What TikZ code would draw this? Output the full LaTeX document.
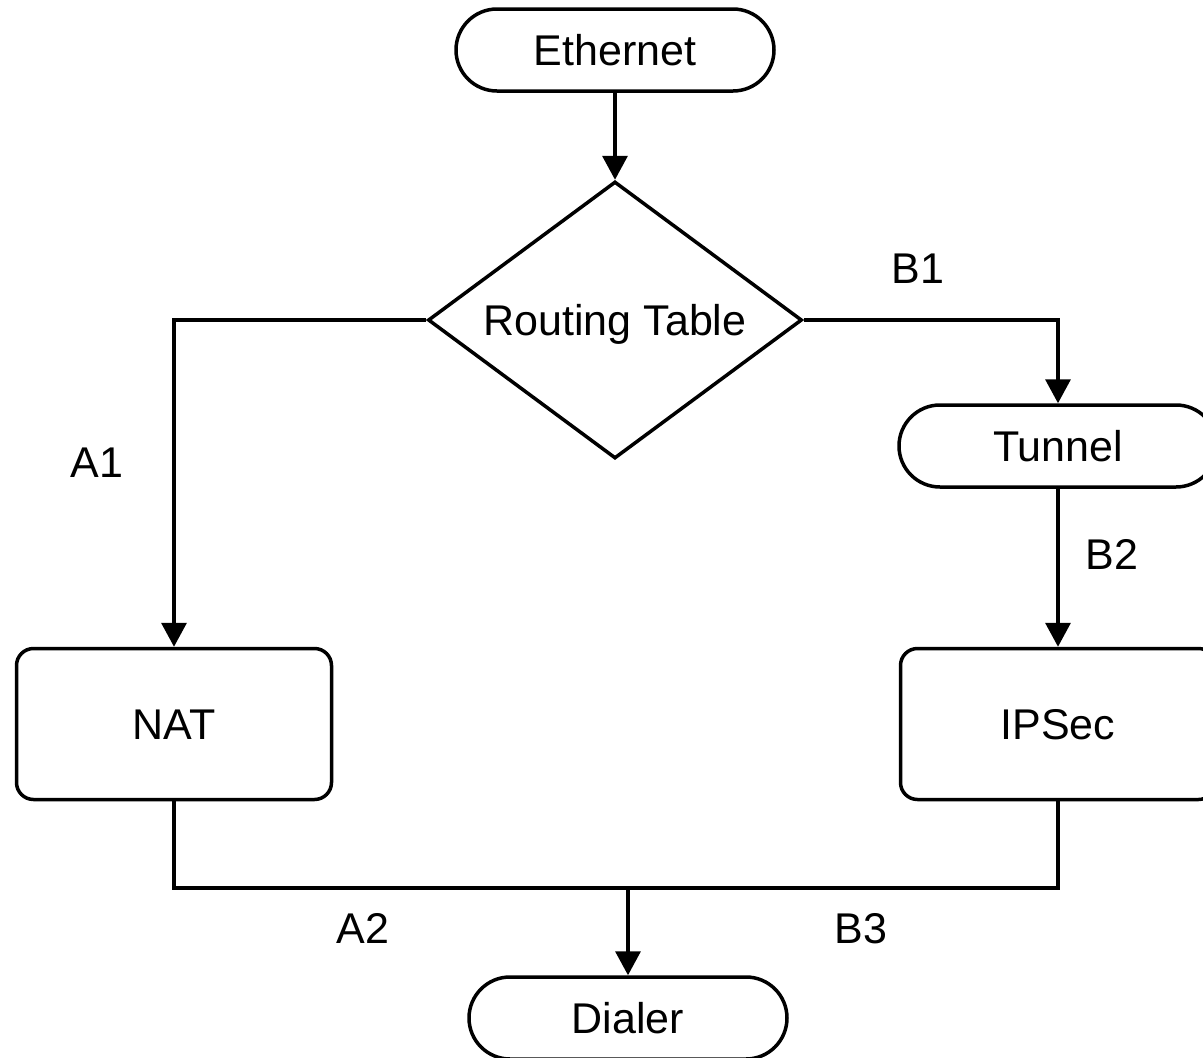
\documentclass[tikz,border=0pt]{standalone}
\usepackage{fontspec}
\setmainfont{Liberation Sans}
\usetikzlibrary{shapes.geometric,arrows.meta}
\begin{document}
\begin{tikzpicture}[x=1pt,y=-1pt,
  every node/.style={font=\fontsize{43}{51}\selectfont, text height=31pt, text depth=0pt, inner sep=0pt},
  terminal/.style={draw, line width=3.5pt, rectangle, rounded corners=41pt, minimum width=318pt, minimum height=82pt},
  process/.style={draw, line width=3.5pt, rectangle, rounded corners=17pt, minimum width=315pt, minimum height=151pt},
  decision/.style={draw, line width=3.5pt, diamond, shape aspect=1.35, minimum width=374pt, minimum height=277pt},
  flow/.style={line width=3.5pt, -{Triangle[length=24pt,width=25pt]}},
  link/.style={line width=3.5pt},
  lbl/.style={}]
\useasboundingbox (0,0) rectangle (1203,1058);
\fill[white] (0,0) rectangle (1203,1058);
\clip (0,0) rectangle (1203,1058);

\node[terminal] (eth) at (615,50) {Ethernet};
\node[decision] (rt) at (615,320) {Routing Table};
\node[terminal] (tun) at (1058,446) {Tunnel};
\node[process] (nat) at (174,724) {NAT};
\node[process] (ips) at (1058,724) {IPSec};
\node[terminal] (dial) at (628,1018) {Dialer};
\coordinate (j) at (628,888);

\node[lbl] (la1) at (97,462) {A1};
\node[lbl] (lb1) at (918,268) {B1};
\node[lbl] (lb2) at (1112,554) {B2};
\node[lbl] (la2) at (363,928) {A2};
\node[lbl] (lb3) at (861,928) {B3};

\draw[flow] (eth.south) -- (rt.north);
\draw[flow] (rt.west) -| (nat.north);
\draw[flow] (rt.east) -| (tun.north);
\draw[flow] (tun.south) -- (ips.north);
\draw[link] (nat.south) |- (j) -| (ips.south);
\draw[flow] (j) -- (dial.north);
\end{tikzpicture}
\end{document}
